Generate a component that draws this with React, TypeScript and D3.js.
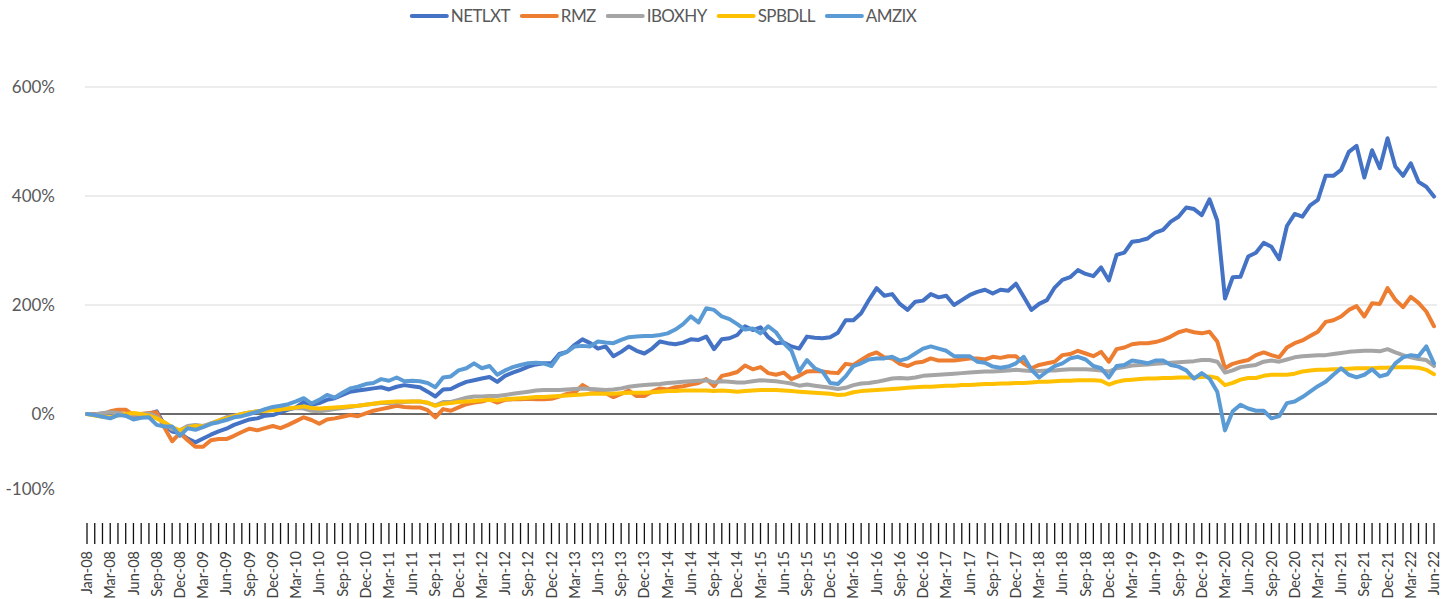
import React, { useEffect, useRef } from 'react';
import * as d3 from 'd3';

// Cumulative return (%) per month, Jan-08 .. Jun-22
const netlxt = [
  0, 0, -2, 3, 2, -3, -8, -3, 0, 5,
  -20, -32, -35, -45, -52, -45, -38, -32, -27, -20,
  -15, -10, -8, -3, -2, 3, 8, 12, 22, 17,
  20, 26, 29, 35, 41, 43, 45, 47, 49, 45,
  50, 53, 51, 49, 41, 32, 45, 46, 53, 59,
  62, 65, 68, 59, 70, 76, 81, 87, 91, 93,
  93, 110, 114, 127, 137, 130, 120, 124, 106, 114,
  124, 116, 111, 120, 133, 130, 128, 131, 137, 136,
  142, 119, 137, 139, 145, 161, 154, 159, 141, 130,
  131, 124, 120, 142, 140, 139, 141, 149, 172, 172,
  185, 209, 231, 217, 220, 202, 191, 206, 208, 220,
  214, 217, 200, 209, 218, 224, 228, 221, 228, 226,
  239, 215, 191, 202, 209, 232, 246, 251, 264, 257,
  253, 269, 245, 292, 296, 316, 318, 322, 333, 338,
  353, 362, 379, 376, 365, 394, 355, 212, 251, 252,
  289, 296, 314, 307, 284, 345, 367, 362, 383, 393,
  437, 437, 448, 481, 492, 434, 484, 451, 506, 454,
  437, 460, 426, 417, 399,
];

const rmz = [
  0, 0, -1, 5, 8, 8, -2, 0, 2, 3,
  -25, -50, -35, -48, -60, -60, -48, -46, -46, -40,
  -33, -27, -30, -26, -22, -26, -20, -13, -6, -11,
  -18, -10, -8, -5, -2, -4, 1, 6, 9, 12,
  15, 13, 12, 12, 7, -6, 9, 6, 12, 18,
  21, 23, 27, 21, 26, 27, 27, 28, 27, 27,
  28, 32, 37, 39, 53, 45, 44, 38, 31, 37,
  43, 33, 33, 41, 47, 45, 49, 51, 54, 57,
  64, 51, 70, 73, 77, 89, 82, 86, 75, 72,
  76, 64, 70, 78, 79, 78, 76, 75, 92, 90,
  99, 108, 113, 104, 102, 92, 88, 94, 96, 102,
  98, 98, 98, 100, 102, 102, 100, 105, 103, 106,
  106, 93, 84, 90, 93, 96, 108, 110, 116, 111,
  106, 114, 96, 119, 122, 128, 130, 130, 132, 136,
  142, 150, 154, 150, 148, 151, 133, 84, 92, 96,
  99, 108, 113, 108, 104, 122, 130, 135, 143, 151,
  169, 172, 179, 191, 198, 179, 203, 202, 231, 210,
  196, 215, 204, 188, 161,
];

const iboxhy = [
  0, -1, 2, 3, 2, -2, -1, 0, 1, -5,
  -18, -28, -30, -22, -20, -22, -17, -12, -6, -3,
  0, 3, 5, 6, 8, 9, 10, 11, 10, 6,
  5, 7, 9, 11, 13, 15, 17, 19, 20, 20,
  21, 22, 23, 23, 20, 16, 22, 22, 26, 30,
  32, 32, 33, 33, 35, 37, 39, 41, 43, 44,
  44, 44, 45, 46, 47, 46, 45, 44, 45, 47,
  50, 52, 53, 54, 55, 57, 58, 59, 60, 61,
  62, 58, 60, 59, 58, 58, 60, 62, 61, 60,
  58, 56, 52, 54, 52, 50, 48, 46, 48, 53,
  56, 57, 59, 62, 65, 66, 65, 67, 70, 71,
  72, 73, 74, 75, 76, 77, 78, 78, 79, 80,
  81, 80, 79, 79, 80, 80, 81, 82, 82, 82,
  81, 80, 78, 84, 86, 89, 90, 91, 92, 93,
  94, 95, 96, 97, 99, 99, 96, 76, 80, 86,
  88, 90, 96, 98, 96, 100, 104, 106, 107, 108,
  108, 110, 112, 114, 115, 116, 116, 115, 119, 113,
  108, 104, 101, 99, 88,
];

const spbdll = [
  0, -3, -5, -6, -3, 0, 2, 0, -3, -8,
  -15, -24, -30, -25, -22, -23, -18, -12, -8, -4,
  0, 3, 5, 6, 7, 8, 10, 12, 14, 11,
  10, 11, 12, 13, 14, 15, 17, 19, 21, 22,
  23, 23, 23, 23, 21, 15, 19, 20, 22, 23,
  24, 25, 26, 25, 27, 28, 29, 30, 31, 31,
  32, 33, 34, 35, 36, 37, 37, 37, 37, 38,
  39, 39, 39, 40, 41, 42, 42, 43, 43, 43,
  43, 42, 43, 42, 41, 42, 43, 44, 44, 44,
  43, 42, 41, 40, 39, 38, 37, 35, 36, 40,
  42, 43, 44, 45, 46, 47, 48, 49, 50, 50,
  51, 52, 52, 53, 53, 54, 55, 55, 56, 56,
  57, 57, 58, 59, 59, 60, 61, 61, 62, 62,
  62, 61, 54, 59, 62, 63, 64, 65, 65, 66,
  66, 67, 67, 67, 68, 69, 66, 53, 57, 63,
  66, 66, 70, 72, 72, 72, 74, 78, 80, 81,
  81, 82, 82, 83, 84, 84, 84, 85, 85, 86,
  86, 86, 85, 81, 73,
];

const amzix = [
  0, -2, -5, -8, -2, -3, -10, -7, -6, -20,
  -23, -23, -40, -26, -29, -24, -18, -15, -11, -6,
  -4, 0, 4, 9, 13, 15, 18, 23, 29, 19,
  26, 35, 30, 39, 47, 50, 55, 57, 64, 61,
  67, 60, 61, 60, 57, 49, 67, 69, 80, 84,
  93, 84, 88, 72, 80, 86, 90, 93, 94, 93,
  88, 108, 114, 124, 125, 124, 133, 131, 130, 136,
  141, 142, 143, 143, 145, 148, 155, 165, 179, 168,
  194, 191, 179, 174, 165, 155, 157, 148, 161, 150,
  130, 116, 78, 99, 84, 78, 57, 55, 69, 88,
  93, 100, 102, 102, 105, 98, 102, 111, 120, 124,
  120, 116, 106, 106, 106, 96, 94, 87, 85, 87,
  93, 105, 81, 67, 78, 88, 93, 102, 105, 100,
  88, 84, 67, 88, 90, 98, 96, 93, 98, 98,
  90, 87, 80, 65, 75, 65, 41, -30, 5, 17,
  10, 6, 6, -8, -4, 20, 23, 31, 41, 51,
  59, 72, 84, 72, 67, 72, 82, 69, 73, 93,
  104, 108, 106, 124, 93,
];

const seriesNames = ['NETLXT', 'RMZ', 'IBOXHY', 'SPBDLL', 'AMZIX'];
const seriesValues = [netlxt, rmz, iboxhy, spbdll, amzix];
const seriesColors = ['#4472C4', '#ED7D31', '#A5A5A5', '#FFC000', '#5B9BD5'];

// one label every third month
const tickLabels = [
  'Jan-08', 'Mar-08', 'Jun-08', 'Sep-08', 'Dec-08',
  'Mar-09', 'Jun-09', 'Sep-09', 'Dec-09',
  'Mar-10', 'Jun-10', 'Sep-10', 'Dec-10',
  'Mar-11', 'Jun-11', 'Sep-11', 'Dec-11',
  'Mar-12', 'Jun-12', 'Sep-12', 'Dec-12',
  'Mar-13', 'Jun-13', 'Sep-13', 'Dec-13',
  'Mar-14', 'Jun-14', 'Sep-14', 'Dec-14',
  'Mar-15', 'Jun-15', 'Sep-15', 'Dec-15',
  'Mar-16', 'Jun-16', 'Sep-16', 'Dec-16',
  'Mar-17', 'Jun-17', 'Sep-17', 'Dec-17',
  'Mar-18', 'Jun-18', 'Sep-18', 'Dec-18',
  'Mar-19', 'Jun-19', 'Sep-19', 'Dec-19',
  'Mar-20', 'Jun-20', 'Sep-20', 'Dec-20',
  'Mar-21', 'Jun-21', 'Sep-21', 'Dec-21',
  'Mar-22', 'Jun-22',
];

const gridValues = [200, 400, 600];
const yLabelValues = [600, 400, 200, 0];

const FONT = 'Lato, "Open Sans", sans-serif';

export default function App() {
  const svgRef = useRef<SVGSVGElement>(null);

  useEffect(() => {
    if (!svgRef.current) return;
    const svg = d3.select(svgRef.current);
    svg.selectAll('*').remove();

    const n = netlxt.length;
    const plotLeft = 85;
    const plotRight = 1437;
    const x = d3.scaleLinear().domain([0, n - 1]).range([87, 1434]);
    const y = d3.scaleLinear().domain([-200, 600]).range([523, 87]);

    // gridlines
    svg.append('g')
      .selectAll('line')
      .data(gridValues)
      .enter().append('line')
      .attr('x1', plotLeft).attr('x2', plotRight)
      .attr('y1', d => y(d)).attr('y2', d => y(d))
      .attr('stroke', '#d9d9d9').attr('stroke-width', 1);

    // y labels
    const yl = svg.append('g')
      .attr('font-family', FONT).attr('font-size', 17).attr('fill', '#595959')
      .attr('text-anchor', 'end');
    yl.selectAll('text')
      .data(yLabelValues)
      .enter().append('text')
      .attr('x', 55).attr('y', d => y(d)).attr('dy', '0.35em')
      .text(d => `${d}%`);
    yl.append('text')
      .attr('x', 55).attr('y', y(-138)).attr('dy', '0.35em')
      .text('-100%');

    // x ticks, one per month
    svg.append('g')
      .selectAll('line')
      .data(d3.range(n))
      .enter().append('line')
      .attr('x1', d => x(d)).attr('x2', d => x(d))
      .attr('y1', 523).attr('y2', 544)
      .attr('stroke', '#111').attr('stroke-width', 1.3);

    // x labels
    svg.append('g')
      .attr('font-family', FONT).attr('font-size', 14.5).attr('fill', '#404040')
      .selectAll('text')
      .data(tickLabels)
      .enter().append('text')
      .attr('transform', (_, i) => `translate(${x(i * 3)},551) rotate(-90)`)
      .attr('text-anchor', 'end').attr('dy', '0.35em')
      .text(d => d);

    // zero line
    svg.append('line')
      .attr('x1', plotLeft).attr('x2', plotRight)
      .attr('y1', y(0)).attr('y2', y(0))
      .attr('stroke', '#3a3a3a').attr('stroke-width', 1.5);

    // series
    const line = d3.line<number>()
      .x((_, i) => x(i))
      .y(d => y(d));

    svg.append('g')
      .selectAll('path')
      .data(seriesValues)
      .enter().append('path')
      .attr('d', d => line(d))
      .attr('fill', 'none')
      .attr('stroke', (_, i) => seriesColors[i])
      .attr('stroke-width', 4)
      .attr('stroke-linejoin', 'round')
      .attr('stroke-linecap', 'round');

    // legend
    const legend = svg.append('g')
      .attr('font-family', FONT).attr('font-size', 17).attr('fill', '#595959')
      .attr('letter-spacing', -0.6);
    const items = legend.selectAll('g')
      .data(seriesNames)
      .enter().append('g');
    items.append('line')
      .attr('x1', 0).attr('x2', 35).attr('y1', 0).attr('y2', 0)
      .attr('stroke', (_, i) => seriesColors[i])
      .attr('stroke-width', 4).attr('stroke-linecap', 'round');
    items.append('text')
      .attr('x', 39).attr('dy', '0.36em')
      .text(d => d);

    let cursor = 0;
    const widths: number[] = [];
    items.each(function () {
      const t = d3.select(this).select('text').node() as SVGTextElement;
      widths.push(39 + t.getComputedTextLength());
    });
    const gap = 12;
    const total = d3.sum(widths) + gap * (widths.length - 1);
    const start = 664 - total / 2;
    items.attr('transform', (_, i) => {
      const tx = start + cursor;
      cursor += widths[i] + gap;
      return `translate(${tx},16)`;
    });
  }, []);

  return (
    <svg
      ref={svgRef}
      width={1449}
      height={599}
      style={{ position: 'absolute', left: 0, top: 0, background: '#fff' }}
    />
  );
}
